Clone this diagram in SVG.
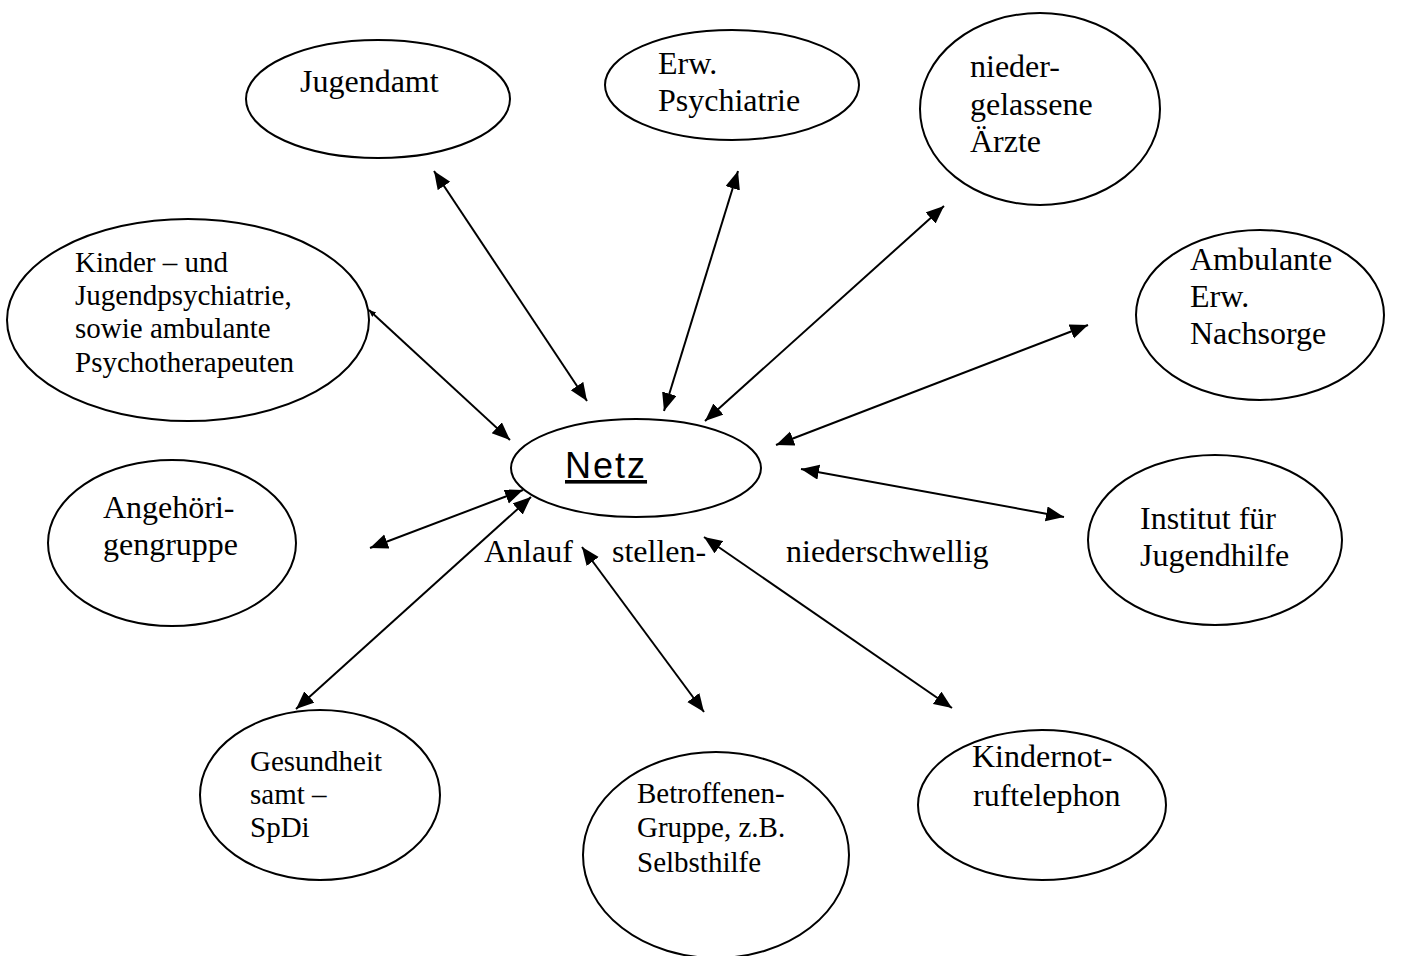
<svg xmlns="http://www.w3.org/2000/svg" width="1408" height="956" viewBox="0 0 1408 956">
<style>
.n{fill:#fff;stroke:#000;stroke-width:2}
.t{font-family:"Liberation Serif","Times New Roman",serif;font-size:32px;fill:#000}
.s{font-size:29px}
.c line{stroke:#000;stroke-width:2;marker-start:url(#ah);marker-end:url(#ah)}
</style>
<defs>
<marker id="ah" markerUnits="userSpaceOnUse" markerWidth="20" markerHeight="16" refX="18" refY="7.5" orient="auto-start-reverse" viewBox="0 0 20 16">
<path d="M0,0 L18,7.5 L0,15 z" fill="#000"/>
</marker>
<marker id="ahs" markerUnits="userSpaceOnUse" markerWidth="10" markerHeight="10" refX="7" refY="3" orient="auto-start-reverse" viewBox="0 0 10 10">
<path d="M0,0 L7,3 L0,6 z" fill="#000"/>
</marker>
</defs>
<rect width="1408" height="956" fill="#fff"/>
<g id="jugendamt"><ellipse class="n" cx="378" cy="99" rx="132" ry="59"/><text class="t" x="300" y="92">Jugendamt</text></g>
<g id="erw-psychiatrie"><ellipse class="n" cx="732" cy="85" rx="127" ry="55"/><text class="t" x="658" y="74">Erw.</text><text class="t" x="658" y="111">Psychiatrie</text></g>
<g id="aerzte"><ellipse class="n" cx="1040" cy="109" rx="120" ry="96"/><text class="t" x="970" y="77">nieder-</text><text class="t" x="970" y="115">gelassene</text><text class="t" x="970" y="152">Ärzte</text></g>
<g id="ambulante"><ellipse class="n" cx="1260" cy="315" rx="124" ry="85"/><text class="t" x="1190" y="270">Ambulante</text><text class="t" x="1190" y="307">Erw.</text><text class="t" x="1190" y="344">Nachsorge</text></g>
<g id="kinder"><ellipse class="n" cx="188" cy="320" rx="181" ry="101"/><text class="t s" x="75" y="272">Kinder – und</text><text class="t s" x="75" y="305">Jugendpsychiatrie,</text><text class="t s" x="75" y="338">sowie ambulante</text><text class="t s" x="75" y="372">Psychotherapeuten</text></g>
<g id="netz"><ellipse class="n" cx="636" cy="468" rx="125" ry="49"/><text x="565" y="478" font-family="'Liberation Sans',Arial,sans-serif" font-size="36" letter-spacing="2" text-decoration="underline">Netz</text></g>
<g id="angehoerige"><ellipse class="n" cx="172" cy="543" rx="124" ry="83"/><text class="t" x="103" y="518">Angehöri-</text><text class="t" x="103" y="555">gengruppe</text></g>
<g id="institut"><ellipse class="n" cx="1215" cy="540" rx="127" ry="85"/><text class="t" x="1140" y="529">Institut für</text><text class="t" x="1140" y="566">Jugendhilfe</text></g>
<g id="gesundheitsamt"><ellipse class="n" cx="320" cy="795" rx="120" ry="85"/><text class="t s" x="250" y="771">Gesundheit</text><text class="t s" x="250" y="804">samt –</text><text class="t s" x="250" y="837">SpDi</text></g>
<g id="betroffene"><ellipse class="n" cx="716" cy="855" rx="133" ry="103"/><text class="t s" x="637" y="803">Betroffenen-</text><text class="t s" x="637" y="837">Gruppe, z.B.</text><text class="t s" x="637" y="872">Selbsthilfe</text></g>
<g id="kindernotruf"><ellipse class="n" cx="1042" cy="805" rx="124" ry="75"/><text class="t" x="972" y="767">Kindernot-</text><text class="t" x="973" y="806">ruftelephon</text></g>
<g id="labels"><text class="t" x="484" y="562">Anlauf</text><text class="t" x="612" y="562">stellen-</text><text class="t" x="786" y="562">niederschwellig</text></g>
<g class="c" id="connectors">
<line x1="434" y1="171" x2="587" y2="401"/>
<line x1="738" y1="171" x2="664" y2="411"/>
<line x1="944" y1="206" x2="705" y2="421"/>
<line x1="1088" y1="325" x2="776" y2="445"/>
<line x1="801" y1="469" x2="1064" y2="517"/>
<line x1="704" y1="537" x2="952" y2="708"/>
<line x1="582" y1="547" x2="704" y2="712"/>
<line x1="531" y1="497" x2="296" y2="709"/>
<line x1="523" y1="490" x2="370" y2="548"/>
<line x1="369" y1="310" x2="510" y2="440" style="marker-start:url(#ahs)"/>
</g>
</svg>
